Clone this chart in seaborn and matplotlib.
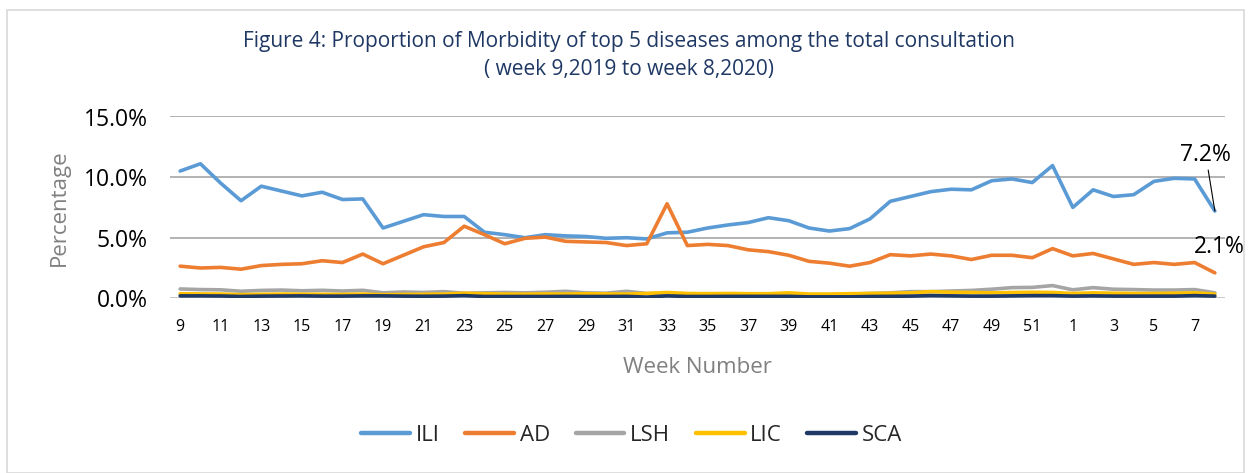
import matplotlib
matplotlib.use("Agg")
import matplotlib.pyplot as plt
import seaborn as sns
import pandas as pd
import numpy as np
from matplotlib.lines import Line2D

weeks = ["9","10","11","12","13","14","15","16","17","18","19","20","21","22","23","24","25","26",
         "27","28","29","30","31","32","33","34","35","36","37","38","39","40","41","42","43","44",
         "45","46","47","48","49","50","51","52","1","2","3","4","5","6","7","8"]

ILI = [10.5, 11.1, 9.5, 8.05, 9.25, 8.85, 8.45, 8.75, 8.15, 8.2, 5.8, 6.35, 6.9, 6.75, 6.75, 5.45,
       5.25, 5.0, 5.25, 5.15, 5.1, 4.95, 5.0, 4.9, 5.4, 5.45, 5.8, 6.05, 6.25, 6.65, 6.4, 5.8,
       5.55, 5.75, 6.55, 8.0, 8.4, 8.8, 9.0, 8.95, 9.7, 9.85, 9.55, 10.95, 7.5, 8.95, 8.4, 8.55,
       9.65, 9.9, 9.85, 7.2]
AD = [2.65, 2.5, 2.55, 2.4, 2.7, 2.8, 2.85, 3.1, 2.95, 3.65, 2.85, 3.55, 4.25, 4.6, 5.95, 5.25,
      4.5, 4.95, 5.05, 4.7, 4.65, 4.6, 4.35, 4.5, 7.8, 4.35, 4.45, 4.35, 4.0, 3.85, 3.55, 3.05,
      2.9, 2.65, 2.95, 3.6, 3.5, 3.65, 3.5, 3.2, 3.55, 3.55, 3.35, 4.1, 3.5, 3.7, 3.25, 2.8,
      2.95, 2.8, 2.95, 2.1]
LSH = [0.77, 0.72, 0.70, 0.58, 0.65, 0.68, 0.62, 0.66, 0.60, 0.66, 0.45, 0.52, 0.48, 0.55, 0.42,
       0.45, 0.48, 0.45, 0.50, 0.58, 0.45, 0.42, 0.58, 0.40, 0.35, 0.35, 0.38, 0.36, 0.35, 0.35,
       0.32, 0.30, 0.30, 0.35, 0.40, 0.45, 0.55, 0.55, 0.60, 0.65, 0.75, 0.88, 0.90, 1.05, 0.70,
       0.88, 0.75, 0.72, 0.68, 0.68, 0.72, 0.45]
LIC = [0.38, 0.36, 0.35, 0.30, 0.33, 0.35, 0.34, 0.33, 0.32, 0.35, 0.30, 0.32, 0.33, 0.35, 0.42,
       0.38, 0.35, 0.34, 0.36, 0.35, 0.38, 0.36, 0.35, 0.40, 0.48, 0.40, 0.38, 0.40, 0.38, 0.38,
       0.45, 0.35, 0.35, 0.38, 0.40, 0.42, 0.45, 0.55, 0.50, 0.48, 0.45, 0.48, 0.50, 0.48, 0.40,
       0.45, 0.42, 0.40, 0.40, 0.42, 0.45, 0.35]
SCA = [0.20, 0.20, 0.19, 0.15, 0.18, 0.19, 0.20, 0.18, 0.18, 0.20, 0.20, 0.18, 0.17, 0.18, 0.22,
       0.15, 0.15, 0.15, 0.15, 0.16, 0.15, 0.15, 0.16, 0.10, 0.20, 0.15, 0.15, 0.16, 0.16, 0.16,
       0.16, 0.12, 0.12, 0.12, 0.15, 0.16, 0.18, 0.22, 0.20, 0.18, 0.18, 0.20, 0.22, 0.22, 0.18,
       0.20, 0.18, 0.18, 0.18, 0.18, 0.22, 0.18]

series_names = ["ILI", "AD", "LSH", "LIC", "SCA"]
series_values = [ILI, AD, LSH, LIC, SCA]
colors = ["#5B9BD5", "#ED7D31", "#A5A5A5", "#FFC000", "#203864"]

rows = []
for name, vals in zip(series_names, series_values):
    for i, v in enumerate(vals):
        rows.append({"idx": i, "week": weeks[i], "value": v / 100.0, "series": name})
df = pd.DataFrame(rows)

sns.set_theme(style="white")
plt.rcParams['font.family'] = ['Open Sans', 'DejaVu Sans']

fig = plt.figure(figsize=(12.51, 4.73), dpi=100)
ax = fig.add_axes([170/1251, 1-298.3/473, (1225-170)/1251, (298.3-116.5)/473])

for y in [0.05, 0.10, 0.15]:
    ax.axhline(y, color="#A6A6A6", lw=1.2, zorder=0)
ax.axhline(0, color="#BFBFBF", lw=1.2, zorder=0)

sns.lineplot(data=df, x="idx", y="value", hue="series", hue_order=series_names,
             palette=colors, linewidth=2.6, ax=ax, legend=False, sort=False)

ax.set_xlim(-0.5, len(weeks) - 0.5)
ax.set_ylim(0, 0.15)
ax.set_yticks([0, 0.05, 0.10, 0.15])
ax.set_yticklabels(["0.0%", "5.0%", "10.0%", "15.0%"], fontsize=16.5, color="#000000")
ax.set_xticks(list(range(0, len(weeks), 2)))
ax.set_xticklabels(weeks[::2], fontsize=11.5, color="#000000")
ax.tick_params(axis="y", length=0, pad=16)
ax.tick_params(axis="x", length=0, pad=15)
for s in ax.spines.values():
    s.set_visible(False)

ax.set_xlabel("Week Number", fontsize=16, color="#808080", labelpad=16)
ax.set_ylabel("Percentage", fontsize=16, color="#808080", labelpad=10)

last = len(weeks) - 1
ax.annotate(f"{ILI[-1]:.1f}%", xy=(last, ILI[-1] / 100), xytext=(last - 0.45, 0.1085),
            fontsize=16.5, ha="center", va="bottom", color="#000000", annotation_clip=False,
            arrowprops=dict(arrowstyle="-", color="#000000", lw=0.8, shrinkA=0, shrinkB=0))
ax.annotate(f"{AD[-1]:.1f}%", xy=(last, AD[-1] / 100), xytext=(last + 0.2, 0.0425),
            fontsize=16.5, ha="center", va="center", color="#000000", annotation_clip=False)

fig.text(0.503, 1 - 42/473, "Figure 4: Proportion of Morbidity of top 5 diseases among the total consultation",
         ha="center", va="center", fontsize=15, color="#1F3864")
fig.text(0.503, 1 - 70/473, "( week 9,2019 to week 8,2020)",
         ha="center", va="center", fontsize=15, color="#1F3864")

handles = [Line2D([0], [0], color=c, lw=3.2, solid_capstyle="round") for c in colors]
fig.legend(handles, series_names, loc="center", bbox_to_anchor=(0.505, 1 - 435/473), ncol=5,
           frameon=False, fontsize=16, handlelength=2.2, handletextpad=0.25, columnspacing=1.15)

border = plt.Rectangle((7/1251, 0.0), 1 - 14/1251, 1 - 10/473, transform=fig.transFigure,
                       fill=False, edgecolor="#D9D9D9", lw=1.2)
fig.add_artist(border)

fig.savefig("out.png", dpi=100, facecolor="white")
